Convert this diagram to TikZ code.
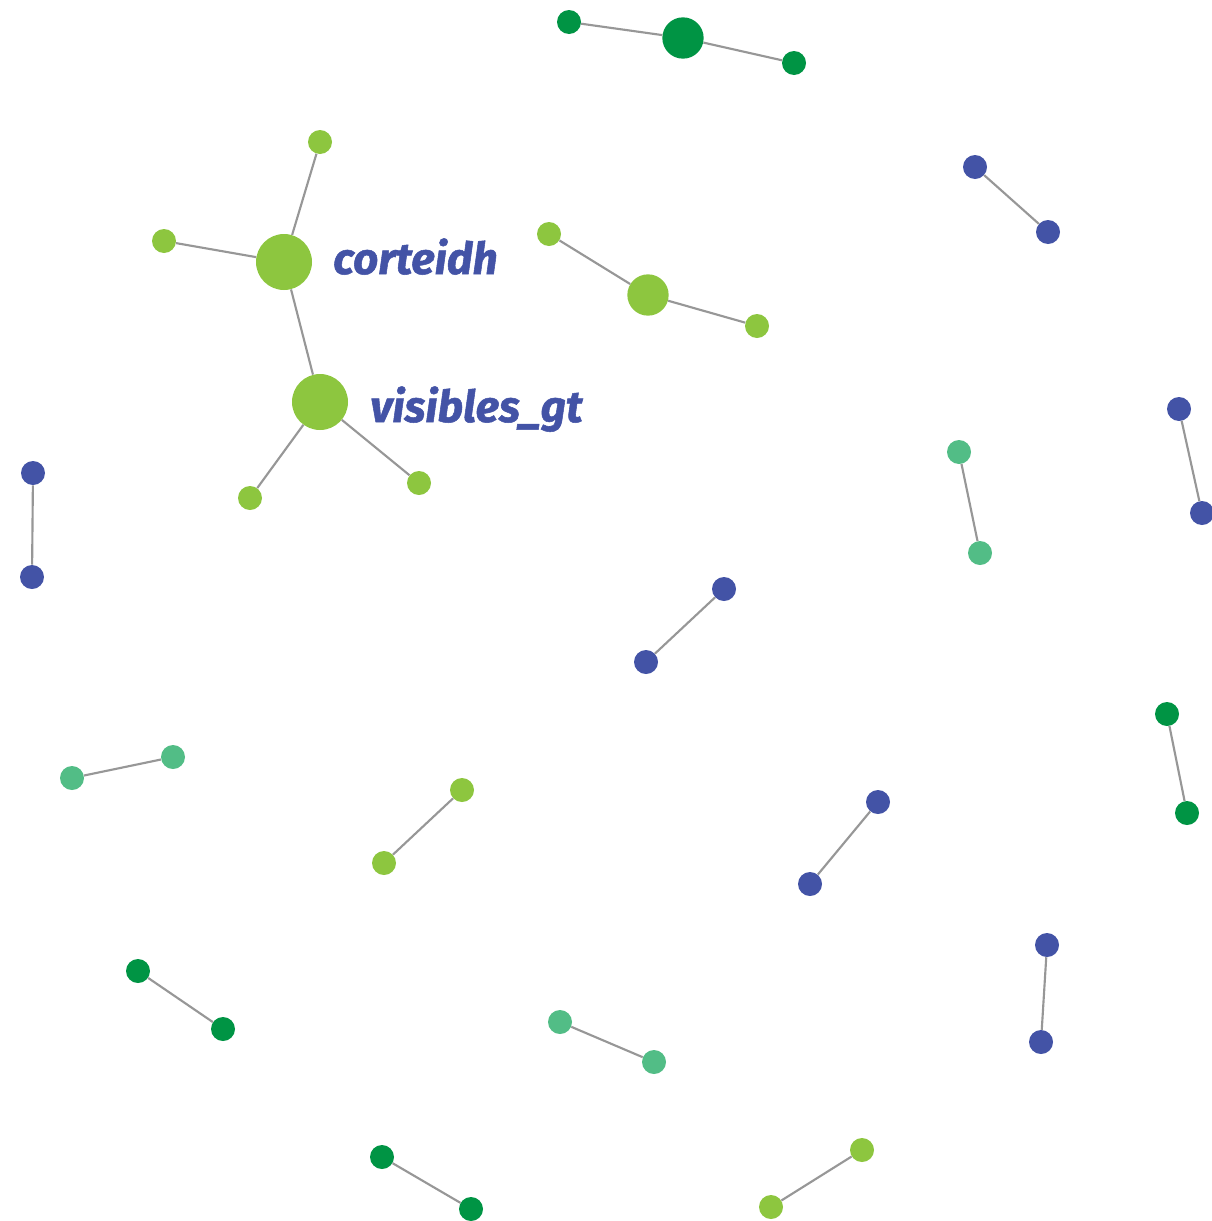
\documentclass[tikz,border=0pt]{standalone}
\usepackage{fontspec}
\setmainfont{Fira Sans}
\newfontfamily\lblfont[BoldItalicFeatures={FakeBold=1.2}]{Fira Sans}
\definecolor{lg}{HTML}{8DC63F}
\definecolor{dg}{HTML}{009444}
\definecolor{bl}{HTML}{4353A6}
\definecolor{tl}{HTML}{52BD86}
\definecolor{ed}{HTML}{979797}
\begin{document}
\begin{tikzpicture}[x=0.75pt,y=-0.75pt,
  dot/.style={circle,inner sep=0pt,minimum size=18pt},
  big/.style={circle,inner sep=0pt,minimum size=42pt},
  mid/.style={circle,inner sep=0pt,minimum size=31pt},
  link/.style={draw=ed,line width=1.6pt},
  lbl/.style={text=bl,font=\lblfont\fontsize{33}{40}\selectfont\bfseries\itshape,anchor=base west,inner sep=0pt}]
\useasboundingbox (0,0) rectangle (1212,1221);
\clip (0,0) rectangle (1212,1221);
% top dark green
\node[dot,fill=dg] (t1) at (569,22) {};
\node[mid,fill=dg] (t2) at (683,38) {};
\node[dot,fill=dg] (t3) at (794,63) {};
% corteidh cluster
\node[big,fill=lg] (c) at (284,262) {};
\node[dot,fill=lg] (c1) at (320,142) {};
\node[dot,fill=lg] (c2) at (164,241) {};
\node[big,fill=lg] (v) at (320,402) {};
\node[dot,fill=lg] (v1) at (250,498) {};
\node[dot,fill=lg] (v2) at (419,483) {};
\node[lbl] (lc) at (333,274) {corteidh};
\node[lbl] (lv) at (370,422) {visibles\_gt};
% middle light green
\node[dot,fill=lg] (m1) at (549,234) {};
\node[mid,fill=lg] (m2) at (648,295) {};
\node[dot,fill=lg] (m3) at (757,326) {};
% pairs
\node[dot,fill=bl] (a1) at (975,167) {};
\node[dot,fill=bl] (a2) at (1048,232) {};
\node[dot,fill=bl] (b1) at (1179,409) {};
\node[dot,fill=bl] (b2) at (1202,513) {};
\node[dot,fill=tl] (e1) at (959,452) {};
\node[dot,fill=tl] (e2) at (980,553) {};
\node[dot,fill=bl] (f1) at (33,473) {};
\node[dot,fill=bl] (f2) at (32,577) {};
\node[dot,fill=bl] (g1) at (724,589) {};
\node[dot,fill=bl] (g2) at (646,662) {};
\node[dot,fill=dg] (h1) at (1167,714) {};
\node[dot,fill=dg] (h2) at (1187,813) {};
\node[dot,fill=tl] (i1) at (72,778) {};
\node[dot,fill=tl] (i2) at (173,757) {};
\node[dot,fill=lg] (j1) at (462,790) {};
\node[dot,fill=lg] (j2) at (384,863) {};
\node[dot,fill=bl] (k1) at (878,802) {};
\node[dot,fill=bl] (k2) at (810,884) {};
\node[dot,fill=dg] (l1) at (138,971) {};
\node[dot,fill=dg] (l2) at (223,1029) {};
\node[dot,fill=bl] (n1) at (1047,945) {};
\node[dot,fill=bl] (n2) at (1041,1042) {};
\node[dot,fill=tl] (o1) at (560,1022) {};
\node[dot,fill=tl] (o2) at (654,1062) {};
\node[dot,fill=dg] (p1) at (382,1157) {};
\node[dot,fill=dg] (p2) at (471,1209) {};
\node[dot,fill=lg] (q1) at (862,1150) {};
\node[dot,fill=lg] (q2) at (771,1207) {};
\foreach \u/\w in {t1/t2,t2/t3,c/c1,c/c2,c/v,v/v1,v/v2,m1/m2,m2/m3,a1/a2,b1/b2,e1/e2,f1/f2,g1/g2,h1/h2,i1/i2,j1/j2,k1/k2,l1/l2,n1/n2,o1/o2,p1/p2,q1/q2}
  \draw[link] (\u) -- (\w);
\end{tikzpicture}
\end{document}
